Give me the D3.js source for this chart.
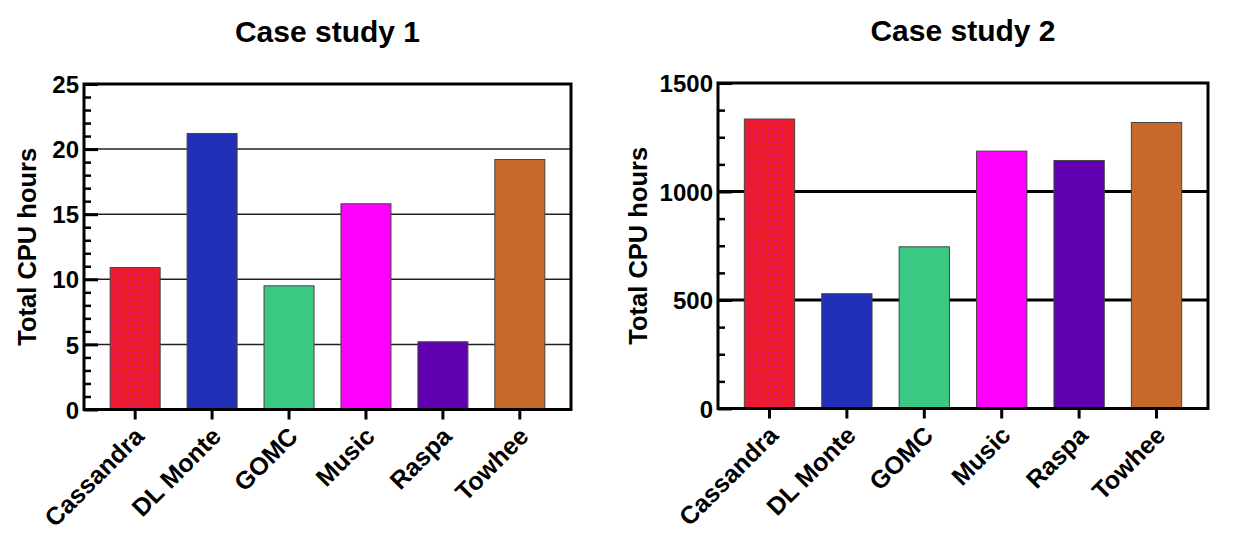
<!DOCTYPE html>
<html>
<head>
<meta charset="utf-8">
<script src="https://cdn.jsdelivr.net/npm/d3@7"></script>
<style>
  html, body { margin: 0; padding: 0; background: #fff; }
  svg text { font-family: "Liberation Sans", Arial, Helvetica, sans-serif; font-weight: bold; fill: #000; }
</style>
</head>
<body>
<svg id="chart" width="1249" height="535"></svg>
<script>
// ---- data ----
const categories = ["Cassandra", "DL Monte", "GOMC", "Music", "Raspa", "Towhee"];
const study1Values = [10.9, 21.2, 9.5, 15.8, 5.2, 19.2];
const study2Values = [1334, 529, 745, 1186, 1143, 1318];
const study1Major = [0, 5, 10, 15, 20, 25];
const study1Minor = [1,2,3,4,6,7,8,9,11,12,13,14,16,17,18,19,21,22,23,24];
const study2Major = [0, 500, 1000, 1500];
const study2Minor = [125,250,375,625,750,875,1125,1250,1375];
const titles = ["Case study 1", "Case study 2"];
const yLabel = "Total CPU hours";
const barColors = ["url(#dots)", "#2230B8", "#3AC983", "#FF00FF", "#6000B0", "#C8692C"];

const svg = d3.select("#chart");
const defs = svg.append("defs");
const pat = defs.append("pattern").attr("id", "dots")
  .attr("patternUnits", "userSpaceOnUse").attr("width", 6.6).attr("height", 6.6);
pat.append("rect").attr("width", 6.6).attr("height", 6.6).attr("fill", "#EE1C27");
pat.append("rect").attr("x", 2).attr("y", 2).attr("width", 2.5).attr("height", 2.5).attr("fill", "#DC0F82");

function drawChart(cfg) {
  const { x0, x1, yTop, yBot, values, major, minor, max, title, gridW, gridColor, labelX } = cfg;
  const g = svg.append("g");
  const x = d3.scaleBand().domain(categories).range([x0, x1]).paddingInner(0.35).paddingOuter(0.34);
  const y = d3.scaleLinear().domain([0, max]).range([yBot, yTop]);

  // title
  g.append("text").attr("x", (x0 + x1) / 2).attr("y", yTop - 42)
    .attr("text-anchor", "middle").style("font-size", "30px").text(title);

  // y label
  g.append("text").attr("transform", `translate(${labelX},${(yTop + yBot) / 2}) rotate(-90)`)
    .attr("text-anchor", "middle").style("font-size", "25.5px").text(yLabel);

  // gridlines
  g.append("g").selectAll("line").data(major.filter(v => v > 0 && v < max)).join("line")
    .attr("x1", x0).attr("x2", x1).attr("y1", d => y(d)).attr("y2", d => y(d))
    .attr("stroke", gridColor).attr("stroke-width", gridW);

  // bars
  g.append("g").selectAll("rect").data(values).join("rect")
    .attr("x", (d, i) => x(categories[i]))
    .attr("width", x.bandwidth())
    .attr("y", d => y(d))
    .attr("height", d => yBot - y(d))
    .attr("fill", (d, i) => barColors[i])
    .attr("stroke", "#444").attr("stroke-width", 1);

  // minor ticks
  const minorAxis = g.append("g").attr("transform", `translate(${x0},0)`)
    .call(d3.axisLeft(y).tickValues(minor).tickSize(-7).tickFormat(""));
  minorAxis.select(".domain").remove();
  minorAxis.selectAll("line").attr("stroke", "#000").attr("stroke-width", 2.5);

  // major ticks + labels
  const majorAxis = g.append("g").attr("transform", `translate(${x0},0)`)
    .call(d3.axisLeft(y).tickValues(major).tickSize(-14).tickPadding(5).tickFormat(d3.format("d")));
  majorAxis.select(".domain").remove();
  majorAxis.selectAll("line").attr("stroke", "#000").attr("stroke-width", 3);
  majorAxis.selectAll("text").style("font-size", "24px").attr("font-family", null)
    .attr("dy", "0.36em");

  // x axis
  const xAxis = g.append("g").attr("transform", `translate(0,${yBot})`)
    .call(d3.axisBottom(x).tickSize(10).tickPadding(0));
  xAxis.select(".domain").remove();
  xAxis.selectAll("line").attr("stroke", "#000").attr("stroke-width", 3);
  xAxis.selectAll("text").style("font-size", "25px").attr("font-family", null)
    .attr("text-anchor", "end")
    .attr("transform", "translate(4,22) rotate(-45)")
    .attr("y", 0).attr("dy", "0.36em");

  // frame
  g.append("path")
    .attr("d", `M${x0},${yTop}V${yBot}H${x1}M${x0},${yTop}H${x1}V${yBot}`)
    .attr("fill", "none").attr("stroke", "#000").attr("stroke-width", 3)
    .attr("stroke-linecap", "square");
}

drawChart({ x0: 84, x1: 571, yTop: 84, yBot: 409.5, values: study1Values, major: study1Major,
  minor: study1Minor, max: 25, title: titles[0], gridW: 1.5, gridColor: "#222", labelX: 36 });
drawChart({ x0: 718, x1: 1208, yTop: 83, yBot: 408.5, values: study2Values, major: study2Major,
  minor: study2Minor, max: 1500, title: titles[1], gridW: 3, gridColor: "#000", labelX: 647 });
</script>
</body>
</html>
